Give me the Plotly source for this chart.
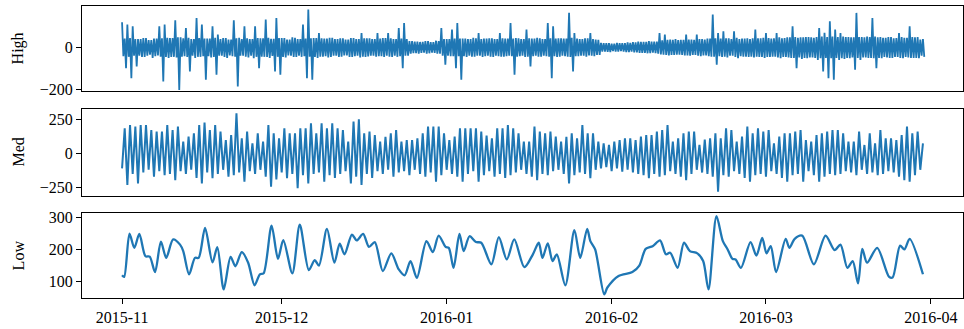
import numpy as np
import pandas as pd
import plotly.graph_objects as go

# ---------------- data ----------------
START = "2015-11-01"
N_DAYS = 151

# High: per-day extreme maximum / minimum, and the typical band amplitude
high_max = [120,109,101,40,45,35,42,101,109,45,
            130,48,93,40,141,109,42,101,61,45,
            38,130,46,101,40,101,44,133,41,141,
            45,38,48,40,109,181,45,69,42,46,
            40,44,38,45,40,69,43,40,69,45,
            69,40,93,117,30,28,26,30,25,32,
            93,40,85,117,42,40,46,69,42,44,
            40,69,42,117,45,40,85,42,46,40,
            117,101,44,42,165,69,40,44,69,38,
            22,20,18,22,20,24,25,28,26,30,
            28,69,61,38,40,36,61,38,61,40,
            42,157,69,77,44,77,40,42,40,85,
            44,69,42,69,44,48,101,46,48,50,
            46,93,70,125,85,69,50,48,165,50,
            52,141,48,46,50,44,69,46,101,48,
            37]
high_min = [-99,-147,-91,-45,-40,-50,-38,-163,-50,-45,
            -203,-42,-115,-50,-45,-155,-48,-131,-40,-50,
            -42,-187,-40,-48,-52,-99,-45,-50,-115,-131,
            -48,-40,-46,-45,-147,-155,-50,-44,-48,-40,
            -45,-38,-46,-42,-48,-45,-40,-44,-42,-40,
            -46,-45,-99,-40,-28,-30,-25,-28,-26,-30,
            -83,-42,-99,-155,-45,-44,-40,-45,-40,-46,
            -42,-44,-40,-131,-42,-46,-91,-40,-44,-42,
            -147,-45,-40,-44,-115,-42,-40,-38,-42,-36,
            -20,-22,-20,-18,-22,-20,-24,-26,-28,-25,
            -30,-35,-38,-36,-35,-38,-40,-36,-42,-38,
            -44,-83,-45,-48,-40,-52,-44,-46,-48,-45,
            -50,-46,-44,-52,-46,-50,-99,-55,-52,-48,
            -60,-115,-147,-155,-60,-55,-52,-107,-60,-48,
            -50,-99,-52,-48,-50,-46,-52,-48,-50,-52,
            -45]
high_band = [42,45,40,40,45,35,42,44,46,45,
             48,44,46,40,45,42,42,46,40,45,
             38,44,40,44,40,45,44,46,41,45,
             45,38,46,40,42,44,45,44,42,46,
             40,44,38,45,40,44,43,40,42,45,
             44,40,42,40,30,28,26,30,25,30,
             40,40,42,42,42,40,44,40,42,44,
             40,44,42,42,44,40,44,42,44,40,
             44,42,44,42,46,42,40,44,40,36,
             20,21,18,20,20,22,24,26,26,28,
             28,34,36,36,35,36,38,36,40,38,
             42,44,42,44,40,46,42,44,44,44,
             46,45,44,48,45,48,50,48,50,48,
             50,52,50,52,50,52,50,48,50,48,
             50,52,50,46,50,45,50,46,50,50,
             40]

# Med: per-day trough and peak of the daily cycle
med_peak = [182,207,195,207,207,170,158,158,207,170,
            195,85,122,146,207,224,170,207,158,97,
            134,292,109,158,73,146,85,207,146,109,
            182,146,146,182,182,219,146,219,182,219,
            182,170,85,231,248,146,158,134,85,120,
            146,170,85,97,97,109,146,195,195,195,
            146,97,122,182,182,182,182,158,130,109,
            182,182,207,182,146,85,85,195,158,146,
            158,122,85,120,146,109,207,146,146,85,
            73,61,85,97,109,109,97,122,134,134,
            158,170,207,85,109,146,158,158,61,100,
            109,146,109,182,170,85,122,195,146,182,
            158,170,73,122,146,146,158,170,97,85,
            134,146,158,170,170,146,85,85,158,61,
            146,73,170,109,109,97,134,195,146,158,
            73]
med_trough = [-110,-231,-150,-219,-140,-120,-170,-130,-160,-150,
              -195,-130,-150,-120,-180,-219,-140,-182,-150,-120,
              -170,-160,-140,-207,-130,-150,-120,-170,-243,-190,
              -140,-182,-150,-255,-160,-219,-150,-140,-207,-160,
              -180,-150,-130,-219,-170,-231,-150,-180,-130,-150,
              -120,-170,-140,-130,-160,-120,-150,-170,-140,-207,
              -160,-120,-150,-170,-207,-150,-130,-207,-160,-130,
              -170,-150,-180,-160,-140,-120,-150,-170,-195,-150,
              -160,-130,-120,-150,-219,-160,-140,-150,-182,-120,
              -110,-100,-130,-110,-134,-120,-140,-150,-160,-182,
              -150,-170,-160,-130,-150,-170,-195,-150,-120,-140,
              -150,-170,-280,-160,-170,-130,-150,-180,-207,-160,
              -150,-170,-130,-150,-180,-207,-160,-150,-207,-130,
              -160,-207,-170,-150,-160,-150,-130,-140,-160,-120,
              -150,-140,-160,-150,-130,-140,-170,-195,-207,-160,
              -120]

# Low: smooth trend, (day offset, value) pairs
low_day = [0, 0.4, 1.4, 2.3, 3.25, 4.4, 5.2, 6.2, 7.3, 8.3,
           9.6, 10.9, 11.5, 12.6, 13.7, 14.4, 15.6, 17.0, 17.9, 19.1,
           20.4, 21.3, 22.5, 23.7, 24.9, 25.9, 26.6, 28.1, 29.3, 30.3,
           32.0, 33.4, 35.1, 36.2, 37.0, 38.5, 39.9, 40.9, 41.8, 43.2,
           44.1, 45.3, 46.4, 47.5, 49.0, 50.6, 52.0, 53.1, 54.2, 55.4,
           57.2, 58.4, 59.5, 60.8, 61.4, 62.3, 63.4, 64.2, 65.3, 66.5,
           67.5, 69.4, 70.8, 72.3, 73.7, 75.6, 77.2, 78.3, 79.0, 80.0,
           80.9, 81.7, 83.3, 85.0, 86.1, 87.4, 88.0, 88.9, 90.6, 91.2,
           93.3, 95.9, 97.2, 98.4, 99.7, 101.1, 102.2, 103.0, 104.4, 105.6,
           106.7, 108.1, 109.2, 110.2, 111.7, 112.9, 113.8, 114.7, 115.3, 116.3,
           118.1, 119.2, 120.3, 121.1, 121.9, 122.9, 124.7, 125.4, 126.4, 127.8,
           130.0, 132.2, 133.9, 135.0, 136.3, 137.3, 138.3, 139.1, 140.0, 141.9,
           144.1, 144.8, 146.2, 147.0, 148.0, 150.5]
low_value = [120, 115, 249, 205, 248, 179, 178, 130, 224, 174,
             231, 215, 195, 123, 174, 174, 267, 160, 207, 76,
             177, 148, 192, 159, 89, 123, 126, 274, 171, 229,
             126, 277, 136, 167, 150, 264, 159, 218, 185, 246,
             228, 248, 208, 223, 133, 188, 138, 120, 164, 112,
             226, 192, 243, 208, 205, 143, 248, 195, 241, 223,
             221, 154, 238, 169, 231, 145, 185, 221, 174, 219,
             164, 185, 89, 260, 174, 264, 226, 200, 61, 82,
             118, 130, 150, 202, 210, 228, 185, 190, 143, 221,
             195, 188, 164, 76, 303, 226, 200, 171, 169, 143,
             223, 181, 236, 188, 210, 130, 233, 205, 233, 243,
             154, 243, 198, 215, 143, 164, 95, 202, 159, 205,
             116, 113, 212, 200, 233, 123]

panel_names = ["High", "Med", "Low"]
month_ticks = ["2015-11-01", "2015-12-01", "2016-01-01", "2016-02-01", "2016-03-01", "2016-04-01"]
month_labels = ["2015-11", "2015-12", "2016-01", "2016-02", "2016-03", "2016-04"]

# ---------------- build time axes ----------------
start = pd.Timestamp(START)
day_t = start + pd.to_timedelta(np.arange(N_DAYS), unit="D")
h = lambda k: (day_t + pd.Timedelta(hours=k)).values

pair_t = np.column_stack([h(0), h(12)]).ravel()
quad_t = np.column_stack([h(0), h(6), h(12), h(18)]).ravel()

hb = np.array(high_band)
high_y = np.column_stack([high_max, -hb, hb, high_min]).ravel()
med_y = np.column_stack([med_trough, med_peak]).ravel()
low_t = start + pd.to_timedelta(np.array(low_day), unit="D")

end = start + pd.Timedelta(days=150.5)
pad = (end - start) * 0.05
xr = [start - pad, end + pad]

COLOR = "#1f77b4"
FONT = "Liberation Serif, Times New Roman, serif"
FS = 16

fig = go.Figure()
fig.add_trace(go.Scatter(x=quad_t, y=high_y, mode="lines",
                         line=dict(color=COLOR, width=1.8), xaxis="x", yaxis="y"))
fig.add_trace(go.Scatter(x=pair_t, y=med_y, mode="lines",
                         line=dict(color=COLOR, width=2), xaxis="x2", yaxis="y2"))
fig.add_trace(go.Scatter(x=low_t, y=low_value, mode="lines",
                         line=dict(color=COLOR, width=2.3, shape="spline", smoothing=0.8),
                         xaxis="x3", yaxis="y3"))

axis_common = dict(showline=True, mirror=True, linecolor="black", linewidth=1,
                   showgrid=False, zeroline=False,
                   tickfont=dict(family=FONT, size=FS, color="black"))

domains = [[0.7099, 1.0], [0.3503, 0.6462], [0.0, 0.2921]]
yranges = [[-207, 198], [-309, 321], [49.5, 314]]
ytickvals = [[-200, 0], [-250, 0, 250], [100, 200, 300]]
yticktext = [["\u2212200", "0"], ["\u2212250", "0", "250"], ["100", "200", "300"]]

layout = dict(width=964, height=329, margin=dict(l=82, r=1, t=6, b=31),
              plot_bgcolor="white", paper_bgcolor="white", showlegend=False,
              font=dict(family=FONT, size=FS, color="black"))
for i in range(3):
    s = "" if i == 0 else str(i + 1)
    last = i == 2
    layout["xaxis" + s] = dict(axis_common, range=xr, domain=[0, 1],
                               anchor="y" + s, type="date",
                               tickvals=month_ticks if last else [],
                               ticktext=month_labels if last else [],
                               ticks="outside" if last else "", ticklen=5, tickwidth=1,
                               tickcolor="black", showticklabels=last)
    layout["yaxis" + s] = dict(axis_common, range=yranges[i], domain=domains[i],
                               anchor="x" + s, tickvals=ytickvals[i], ticktext=yticktext[i],
                               ticks="outside", ticklen=5, tickwidth=1, tickcolor="black")
fig.update_layout(**layout)

for i, name in enumerate(panel_names):
    fig.add_annotation(text=name, xref="paper", yref="paper",
                       x=-0.0726, y=sum(domains[i]) / 2, textangle=-90,
                       showarrow=False, xanchor="center", yanchor="middle",
                       font=dict(family=FONT, size=FS, color="black"))

fig.write_html("out.html", config={"displayModeBar": False},
               post_script="document.body.style.margin='0px';")
